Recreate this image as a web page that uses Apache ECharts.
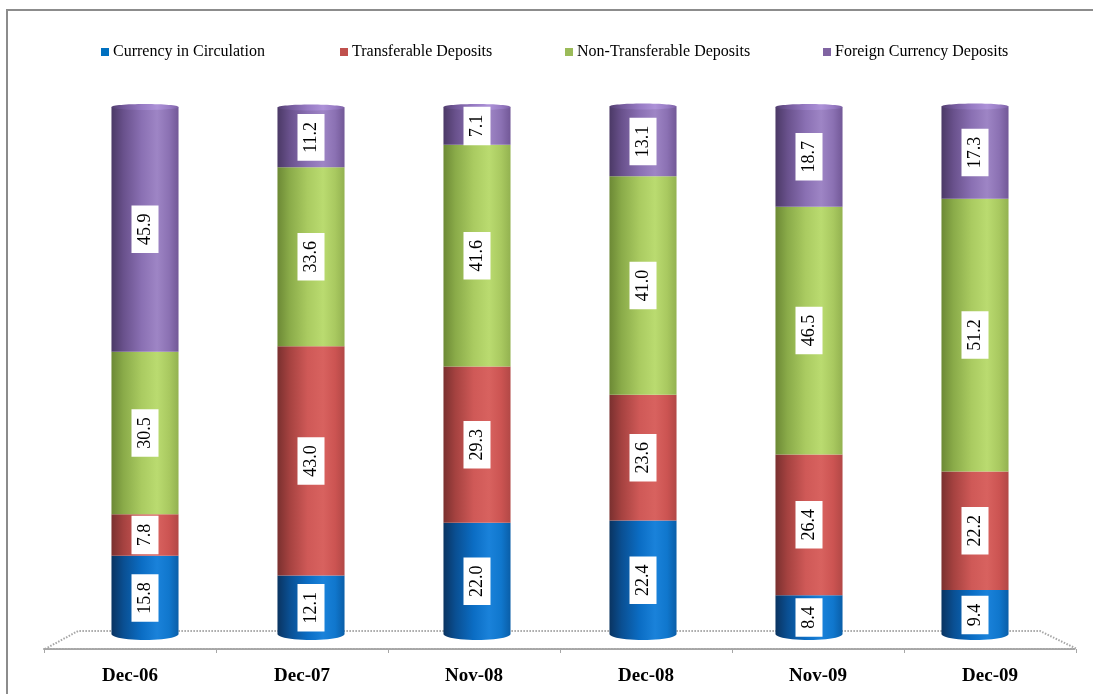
<!DOCTYPE html>
<html>
<head>
<meta charset="utf-8">
<style>
  html, body { margin: 0; padding: 0; background: #fff; }
  #chart { width: 1093px; height: 694px; }
</style>
<script src="https://cdn.jsdelivr.net/npm/echarts@6/dist/echarts.min.js"></script>
</head>
<body>
<div id="chart"></div>
<script>
// Composition of money supply (% share), stacked per period
const categories = ['Dec-06', 'Dec-07', 'Nov-08', 'Dec-08', 'Nov-09', 'Dec-09'];
const currencyInCirculation   = [15.8, 12.1, 22.0, 22.4, 8.4, 9.4];
const transferableDeposits    = [7.8, 43.0, 29.3, 23.6, 26.4, 22.2];
const nonTransferableDeposits = [30.5, 33.6, 41.6, 41.0, 46.5, 51.2];
const foreignCurrencyDeposits = [45.9, 11.2, 7.1, 13.1, 18.7, 17.3];

const seriesDefs = [
  { name: 'Currency in Circulation', values: currencyInCirculation, color: '#0070c0',
    stops: ['#0a3461', '#0a4f92', '#0b6dc4', '#1a82da', '#1077cd', '#0a5ea8'] },
  { name: 'Transferable Deposits', values: transferableDeposits, color: '#c0504d',
    stops: ['#7a302f', '#a54240', '#cf5957', '#d8625f', '#cc5452', '#b24846'] },
  { name: 'Non-Transferable Deposits', values: nonTransferableDeposits, color: '#9bbb59',
    stops: ['#6c8935', '#8aab49', '#aacb61', '#badb70', '#a9c960', '#93b250'] },
  { name: 'Foreign Currency Deposits', values: foreignCurrencyDeposits, color: '#8064a2',
    stops: ['#4b3966', '#69518c', '#8a70b3', '#9e85c5', '#8b71b3', '#725897'] }
];

function cylGradient(stops) {
  const pos = [0, 0.18, 0.45, 0.68, 0.86, 1];
  return new echarts.graphic.LinearGradient(0, 0, 1, 0,
    stops.map((c, i) => ({ offset: pos[i], color: c })));
}

// cumulative bases for stacking
const bases = categories.map(() => 0);
const lastIndex = seriesDefs.length - 1;

const series = seriesDefs.map((def, si) => {
  const data = def.values.map((v, i) => {
    const base = bases[i];
    bases[i] += v;
    return [i, base, base + v, v];
  });
  return {
    name: def.name,
    type: 'custom',
    xAxisIndex: 0,
    yAxisIndex: 0,
    clip: false,
    itemStyle: { color: def.color },
    data: data,
    renderItem: function (params, api) {
      const idx = api.value(0);
      const base = api.value(1);
      const top = api.value(2);
      const val = api.value(3);
      const band = api.size([1, 0])[0];
      const w = band * 0.404;
      const pTop = api.coord([idx, top]);
      const pBot = api.coord([idx, base]);
      const cx = pTop[0];
      const x0 = cx - w / 2, x1 = cx + w / 2;
      const yT = pTop[1], yB = pBot[1];
      const children = [];
      let pts;
      if (base === 0) {
        const ry = 6;
        pts = [[x0, yT], [x1, yT]];
        const N = 24;
        for (let k = 0; k <= N; k++) {
          const t = Math.PI * k / N;
          pts.push([cx + (w / 2) * Math.cos(t), (yB - ry) + ry * Math.sin(t)]);
        }
      } else {
        pts = [[x0, yT], [x1, yT], [x1, yB], [x0, yB]];
      }
      children.push({
        type: 'polygon',
        shape: { points: pts },
        style: { fill: cylGradient(seriesDefs[si].stops) }
      });
      if (si === lastIndex) {
        const light = seriesDefs[si].stops.map(c => echarts.color.lift(c, -0.1));
        children.push({
          type: 'ellipse',
          shape: { cx: cx, cy: yT, rx: w / 2, ry: 3 },
          style: { fill: cylGradient(light) }
        });
      }
      children.push({
        type: 'text',
        x: cx,
        y: (yT + yB) / 2,
        rotation: Math.PI / 2,
        style: {
          text: val.toFixed(1),
          fill: '#000',
          font: '18px "Liberation Serif", "Times New Roman", serif',
          align: 'center',
          verticalAlign: 'middle',
          backgroundColor: '#fff',
          padding: [5, 8, 4, 8]
        },
        z2: 10
      });
      return { type: 'group', children: children };
    }
  };
});

const legendLefts = [101, 340, 565, 823];
const legends = seriesDefs.map((def, i) => ({
  data: [def.name],
  left: legendLefts[i],
  top: 44,
  padding: 0,
  icon: 'rect',
  itemWidth: 8,
  itemHeight: 8,
  itemGap: 0,
  selectedMode: false,
  textStyle: {
    fontFamily: '"Liberation Serif", "Times New Roman", serif',
    fontSize: 16,
    color: '#000',
    padding: [0, 0, 0, -1]
  }
}));

const chart = echarts.init(document.getElementById('chart'), null, { renderer: 'canvas' });

chart.setOption({
  backgroundColor: '#fff',
  animation: false,
  legend: legends,
  grid: [
    { left: 62, right: 35, top: 107, bottom: 54 },
    { left: 44, right: 17, top: 600, bottom: 45 }
  ],
  xAxis: [
    { type: 'category', gridIndex: 0, data: categories, show: false },
    {
      type: 'category', gridIndex: 1, data: categories,
      axisLine: { show: true, lineStyle: { color: '#a6a6a6', width: 2, type: [1.5, 1.5] } },
      axisTick: { show: true, length: 4, lineStyle: { color: '#a6a6a6' } },
      axisLabel: {
        margin: 18,
        fontFamily: '"Liberation Serif", "Times New Roman", serif',
        fontWeight: 'bold',
        fontSize: 19,
        color: '#000'
      }
    }
  ],
  yAxis: [
    { type: 'value', gridIndex: 0, min: 0, max: 100, show: false },
    { type: 'value', gridIndex: 1, min: 0, max: 1, show: false }
  ],
  graphic: [
    {
      type: 'rect', z: -10,
      shape: { x: 7, y: 10, width: 1100, height: 700 },
      style: { fill: 'none', stroke: '#8c8c8c', lineWidth: 2 }
    },
    {
      type: 'polyline', z: -5,
      shape: { points: [[45, 649], [78, 631], [1040, 631], [1077, 649]] },
      style: { fill: 'none', stroke: '#a6a6a6', lineWidth: 2, lineDash: [1.5, 1.5] }
    }
  ],
  series: series
});
</script>
</body>
</html>
